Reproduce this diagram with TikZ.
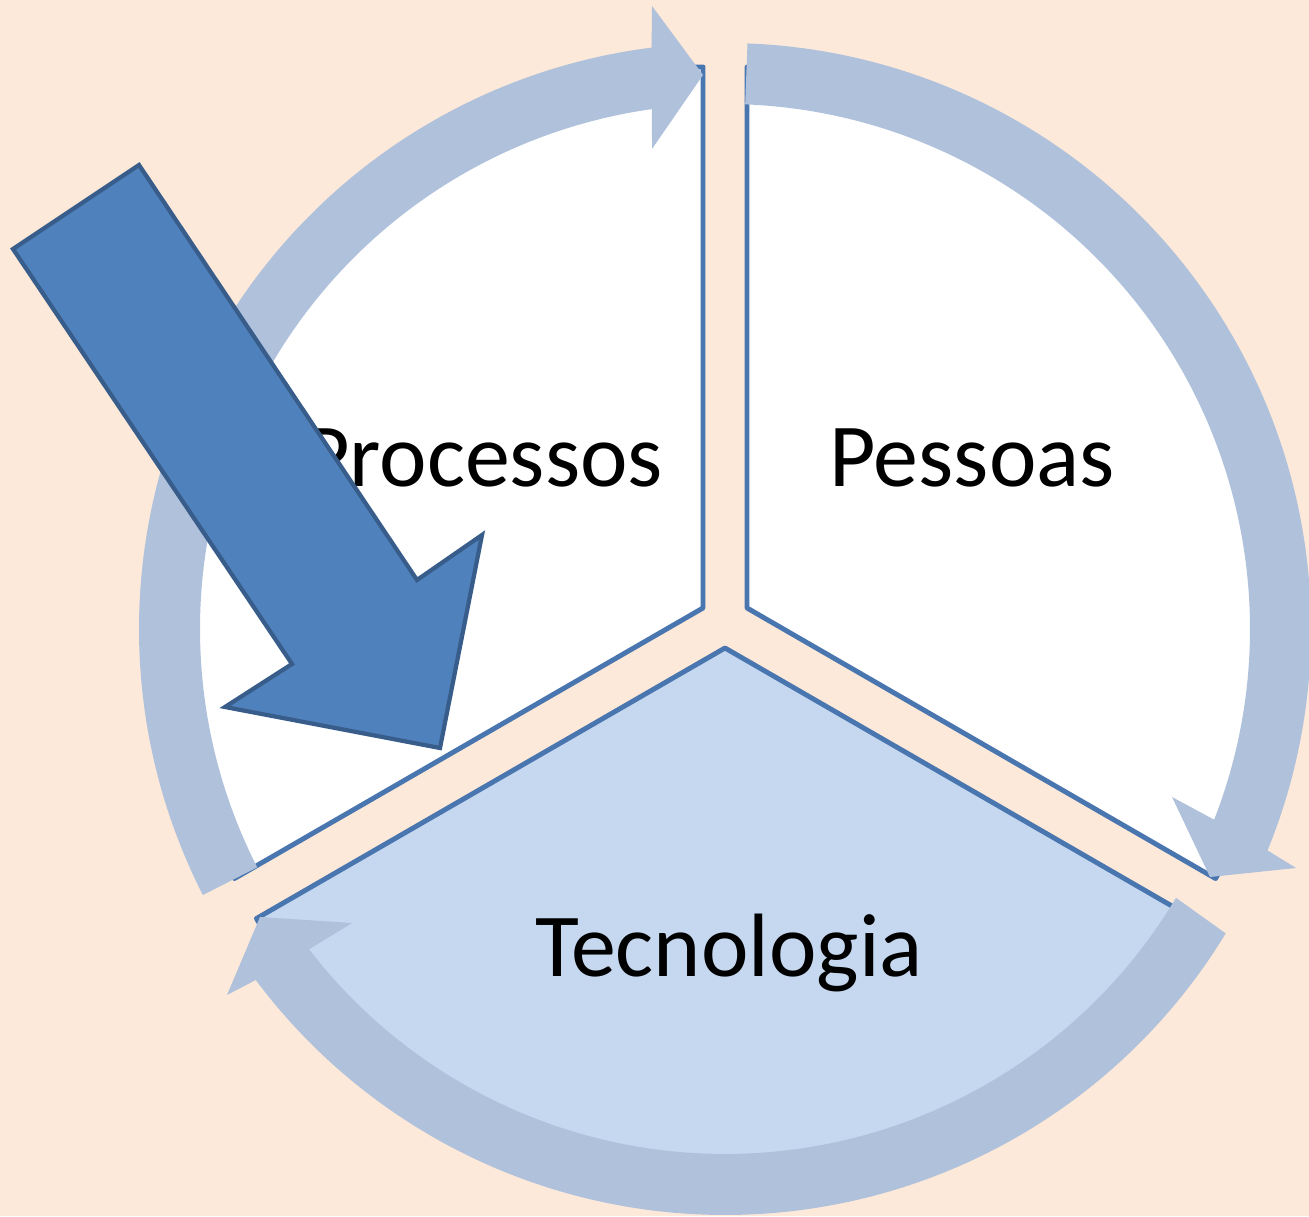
\documentclass[tikz,border=0pt]{standalone}
\usepackage{fontspec}
\setmainfont{Carlito}
\usepackage{tikz}
\usetikzlibrary{calc}
\definecolor{peach}{HTML}{FDE9D9}
\definecolor{ringblue}{HTML}{B0C1DC}
\definecolor{techblue}{HTML}{C6D8F0}
\definecolor{edgeblue}{HTML}{4A76B0}
\definecolor{bigblue}{HTML}{4F81BD}
\definecolor{bigedge}{HTML}{385D8A}

\begin{document}
\begin{tikzpicture}
\fill[peach] (0,0) rectangle (13.09,12.16);
\useasboundingbox (0,0) rectangle (13.09,12.16);

\def\rin{5.25}
\def\rout{5.86}
\def\rseg{5.41}
\tikzstyle{seg} = [draw=edgeblue, line width=1.4pt, line join=round, fill=white];
\tikzstyle{ring} = [fill=ringblue, draw=none];
\tikzstyle{lbl} = [font=\fontsize{25.6}{30}\selectfont, anchor=base, inner sep=0pt];
\tikzstyle{bigarrow} = [draw=bigedge, fill=bigblue, line width=1.2pt, line join=miter];

\coordinate (o) at (7.25,5.87);
\coordinate (pa) at (7.03,6.08);
\coordinate (pb) at (7.47,6.08);
\coordinate (tc) at (7.25,5.68);

% pie segments
\draw[seg] (pa) -- ++(90:\rseg) arc[start angle=90, end angle=210, radius=\rseg] -- cycle;
\draw[seg] (pb) -- ++(90:\rseg) arc[start angle=90, end angle=-30, radius=\rseg] -- cycle;
\draw[seg, fill=techblue] (tc) -- ++(210:\rseg) arc[start angle=210, end angle=330, radius=\rseg] -- cycle;

% circular arrows
\fill[ring] ($(o)+(207:\rout)$) arc[start angle=207, end angle=97.2, radius=\rout]
  -- (6.52,12.10) -- (7.03,11.41) -- (6.52,10.67)
  -- ($(o)+(98:\rin)$) arc[start angle=98, end angle=207, radius=\rin] -- cycle;
\fill[ring] ($(o)+(87.8:\rout)$) arc[start angle=87.8, end angle=-22.2, radius=\rout]
  -- (12.96,3.48) -- (12.10,3.39) -- (11.72,4.19)
  -- ($(o)+(-21.3:\rin)$) arc[start angle=-21.3, end angle=87.8, radius=\rin] -- cycle;
\fill[ring] ($(o)+(-31.3:\rout)$) arc[start angle=-31.3, end angle=-143.2, radius=\rout]
  -- (2.27,2.21) -- (2.60,2.99) -- (3.52,2.93)
  -- ($(o)+(-142.4:\rin)$) arc[start angle=-142.4, end angle=-30.8, radius=\rin] -- cycle;

\node[lbl] (proc) at (4.83,7.29) {Processos};
\node[lbl] (pess) at (9.72,7.29) {Pessoas};
\node[lbl] (tec) at (7.29,2.40) {Tecnologia};

% block arrow
\draw[bigarrow] (1.39,10.51) -- (4.17,6.36) -- (4.82,6.81) -- (4.40,4.68)
  -- (2.25,5.09) -- (2.92,5.52) -- (0.13,9.67) -- cycle;

\end{tikzpicture}
\end{document}
